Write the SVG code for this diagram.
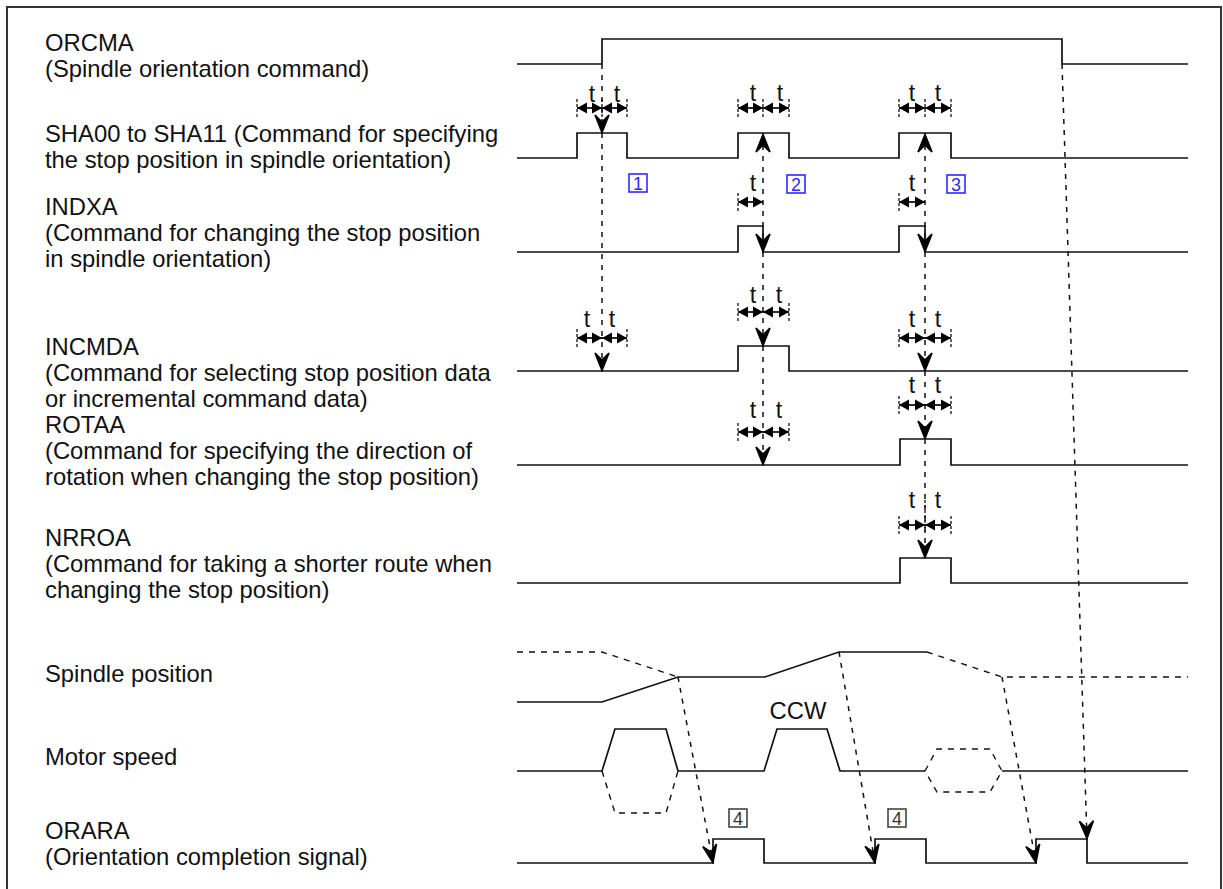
<svg xmlns="http://www.w3.org/2000/svg" width="1223" height="889" viewBox="0 0 1223 889">
<style>
.lbl{font-family:"Liberation Sans",Arial,sans-serif;font-size:23.8px;fill:#111}
.t{font-family:"Liberation Sans",Arial,sans-serif;font-size:23px;fill:#111;text-anchor:middle}
.sig{fill:none;stroke:#111;stroke-width:1.7}
.dsig{fill:none;stroke:#111;stroke-width:1.4;stroke-dasharray:6,6}
.dl{fill:none;stroke:#111;stroke-width:1.5;stroke-dasharray:5,6}
.dla{fill:none;stroke:#111;stroke-width:1.5;stroke-dasharray:5,6;marker-end:url(#ah)}
.dim{fill:none;stroke:#111;stroke-width:1.8;marker-start:url(#dh);marker-end:url(#dh)}
.tick{fill:none;stroke:#111;stroke-width:1.3;stroke-dasharray:3,2}
.bb{fill:#fff;stroke:#2b2bff;stroke-width:1.6}
.bt{font-family:"Liberation Sans",Arial,sans-serif;font-size:18px;fill:#2b2bff;text-anchor:middle}
.gb{fill:#fff;stroke:#444;stroke-width:1.6}
.gt{font-family:"Liberation Sans",Arial,sans-serif;font-size:18px;fill:#333;text-anchor:middle}
</style>
<defs>
<marker id="ah" viewBox="-21 -10 22 20" refX="0" refY="0" markerWidth="22" markerHeight="20" markerUnits="userSpaceOnUse" orient="auto-start-reverse">
<path d="M-0.5,0 L-18,-7 L-11,0 L-18,7 Z" fill="#000" stroke="#000" stroke-width="1.6" stroke-linejoin="miter" stroke-miterlimit="3"/>
</marker>
<marker id="dh" viewBox="-11 -6 12 12" refX="0" refY="0" markerWidth="12" markerHeight="12" markerUnits="userSpaceOnUse" orient="auto-start-reverse">
<path d="M0,0 L-10,-5.5 L-10,5.5 Z" fill="#000"/>
</marker>
</defs>
<rect width="1223" height="889" fill="#fff"/>
<path d="M7,895 V7 H1221 V895" fill="none" stroke="#333" stroke-width="2"/>

<g id="labels">
<text class="lbl" x="45" y="51">ORCMA</text>
<text class="lbl" x="45" y="77">(Spindle orientation command)</text>
<text class="lbl" x="45" y="142">SHA00 to SHA11 (Command for specifying</text>
<text class="lbl" x="45" y="168">the stop position in spindle orientation)</text>
<text class="lbl" x="45" y="215">INDXA</text>
<text class="lbl" x="45" y="241">(Command for changing the stop position</text>
<text class="lbl" x="45" y="267">in spindle orientation)</text>
<text class="lbl" x="45" y="355">INCMDA</text>
<text class="lbl" x="45" y="381">(Command for selecting stop position data</text>
<text class="lbl" x="45" y="407">or incremental command data)</text>
<text class="lbl" x="45" y="433">ROTAA</text>
<text class="lbl" x="45" y="459">(Command for specifying the direction of</text>
<text class="lbl" x="45" y="485">rotation when changing the stop position)</text>
<text class="lbl" x="45" y="546">NRROA</text>
<text class="lbl" x="45" y="572">(Command for taking a shorter route when</text>
<text class="lbl" x="45" y="598">changing the stop position)</text>
<text class="lbl" x="45" y="682">Spindle position</text>
<text class="lbl" x="45" y="765">Motor speed</text>
<text class="lbl" x="45" y="839">ORARA</text>
<text class="lbl" x="45" y="865">(Orientation completion signal)</text>
</g>

<g id="signals">
<path id="orcma" class="sig" d="M517,64 H602 V39 H1062 V64 H1188"/>
<path id="sha" class="sig" d="M517,158 H577 V133 H627 V158 H738 V133 H789 V158 H899 V133 H951 V158 H1188"/>
<path id="indxa" class="sig" d="M517,252 H738 V226 H763 V252 H899 V226 H925 V252 H1188"/>
<path id="incmda" class="sig" d="M517,371 H738 V346 H789 V371 H1188"/>
<path id="rotaa" class="sig" d="M517,465 H900 V439 H951 V465 H1188"/>
<path id="nrroa" class="sig" d="M517,583 H900 V558 H951 V583 H1188"/>
<g id="spindle">
<path class="sig" d="M517,702 H602 L678,677 H765 L839,652 H927"/>
<path class="dsig" d="M517,652 H602 L678,677"/>
<path class="dsig" d="M927,652 L1002,677 H1188"/>
</g>
<g id="motor">
<path class="sig" d="M517,771 H602 L615,729 H666 L678,771 H764 L777,729 H827 L840,771 H925"/>
<path class="sig" d="M1002,771 H1188"/>
<path class="dsig" d="M602,771 L615,813 H666 L678,771"/>
<path class="dsig" d="M925,771 L937,749 H990 L1002,771 L990,792 H937 Z"/>
<text class="lbl" x="798" y="719" text-anchor="middle">CCW</text>
</g>
<path id="orara" class="sig" d="M517,863 H713 V839 H764 V863 H875 V839 H926 V863 H1036 V839 H1087 V863 H1188"/>
</g>

<g id="connectors">
<path class="dla" d="M602,64 V133"/>
<path class="dla" d="M602,133 V371"/>
<path class="dl" d="M763,134 V252" marker-start="url(#ah)" marker-end="url(#ah)"/>
<path class="dla" d="M763,252 V346"/>
<path class="dla" d="M763,346 V465"/>
<path class="dl" d="M925,134 V252" marker-start="url(#ah)" marker-end="url(#ah)"/>
<path class="dla" d="M925,252 V371"/>
<path class="dla" d="M925,371 V439"/>
<path class="dla" d="M925,439 V558"/>
<path class="dla" d="M678,677 L713,863"/>
<path class="dla" d="M839,652 L875,863"/>
<path class="dla" d="M1002,677 L1036,863"/>
<path class="dla" d="M1062,64 L1087,839"/>
</g>

<g id="timing">
<path class="dim" d="M577,108 H602"/><path class="dim" d="M602,108 H627"/>
<path class="tick" d="M577,99 V117 M602,99 V117 M627,99 V117"/>
<text class="t" x="592" y="102">t</text><text class="t" x="617" y="102">t</text>
<path class="dim" d="M738,108 H763"/><path class="dim" d="M763,108 H789"/>
<path class="tick" d="M738,99 V117 M763,99 V117 M789,99 V117"/>
<text class="t" x="753" y="101">t</text><text class="t" x="780" y="101">t</text>
<path class="dim" d="M899,108 H925"/><path class="dim" d="M925,108 H951"/>
<path class="tick" d="M899,99 V117 M925,99 V117 M951,99 V117"/>
<text class="t" x="912" y="101">t</text><text class="t" x="938" y="101">t</text>
<path class="dim" d="M738,202 H763"/>
<path class="tick" d="M738,193 V211"/>
<text class="t" x="753" y="191">t</text>
<path class="dim" d="M899,202 H925"/>
<path class="tick" d="M899,193 V211"/>
<text class="t" x="912" y="191">t</text>
<path class="dim" d="M577,338 H602"/><path class="dim" d="M602,338 H627"/>
<path class="tick" d="M577,329 V347 M627,329 V347"/>
<text class="t" x="587" y="327">t</text><text class="t" x="612" y="327">t</text>
<path class="dim" d="M738,312 H763"/><path class="dim" d="M763,312 H789"/>
<path class="tick" d="M738,303 V321 M789,303 V321"/>
<text class="t" x="753" y="303">t</text><text class="t" x="779" y="303">t</text>
<path class="dim" d="M899,338 H925"/><path class="dim" d="M925,338 H951"/>
<path class="tick" d="M899,329 V347 M951,329 V347"/>
<text class="t" x="912" y="327">t</text><text class="t" x="938" y="327">t</text>
<path class="dim" d="M738,432 H763"/><path class="dim" d="M763,432 H789"/>
<path class="tick" d="M738,423 V441 M789,423 V441"/>
<text class="t" x="753" y="418">t</text><text class="t" x="779" y="418">t</text>
<path class="dim" d="M899,405 H925"/><path class="dim" d="M925,405 H951"/>
<path class="tick" d="M899,396 V414 M951,396 V414"/>
<text class="t" x="912" y="393">t</text><text class="t" x="938" y="393">t</text>
<path class="dim" d="M899,525 H925"/><path class="dim" d="M925,525 H951"/>
<path class="tick" d="M899,516 V534 M925,500 V534 M951,516 V534"/>
<text class="t" x="912" y="508">t</text><text class="t" x="938" y="508">t</text>
</g>

<g id="box1"><rect class="bb" x="629" y="174" width="18" height="18"/><text class="bt" x="638" y="189.5">1</text></g>
<g id="box2"><rect class="bb" x="787" y="175" width="18" height="18"/><text class="bt" x="796" y="190.5">2</text></g>
<g id="box3"><rect class="bb" x="947" y="175" width="18" height="18"/><text class="bt" x="956" y="190.5">3</text></g>
<g id="box4a"><rect class="gb" x="729" y="809" width="18" height="18"/><text class="gt" x="738" y="824.5">4</text></g>
<g id="box4b"><rect class="gb" x="888" y="809" width="18" height="18"/><text class="gt" x="897" y="824.5">4</text></g>
</svg>
